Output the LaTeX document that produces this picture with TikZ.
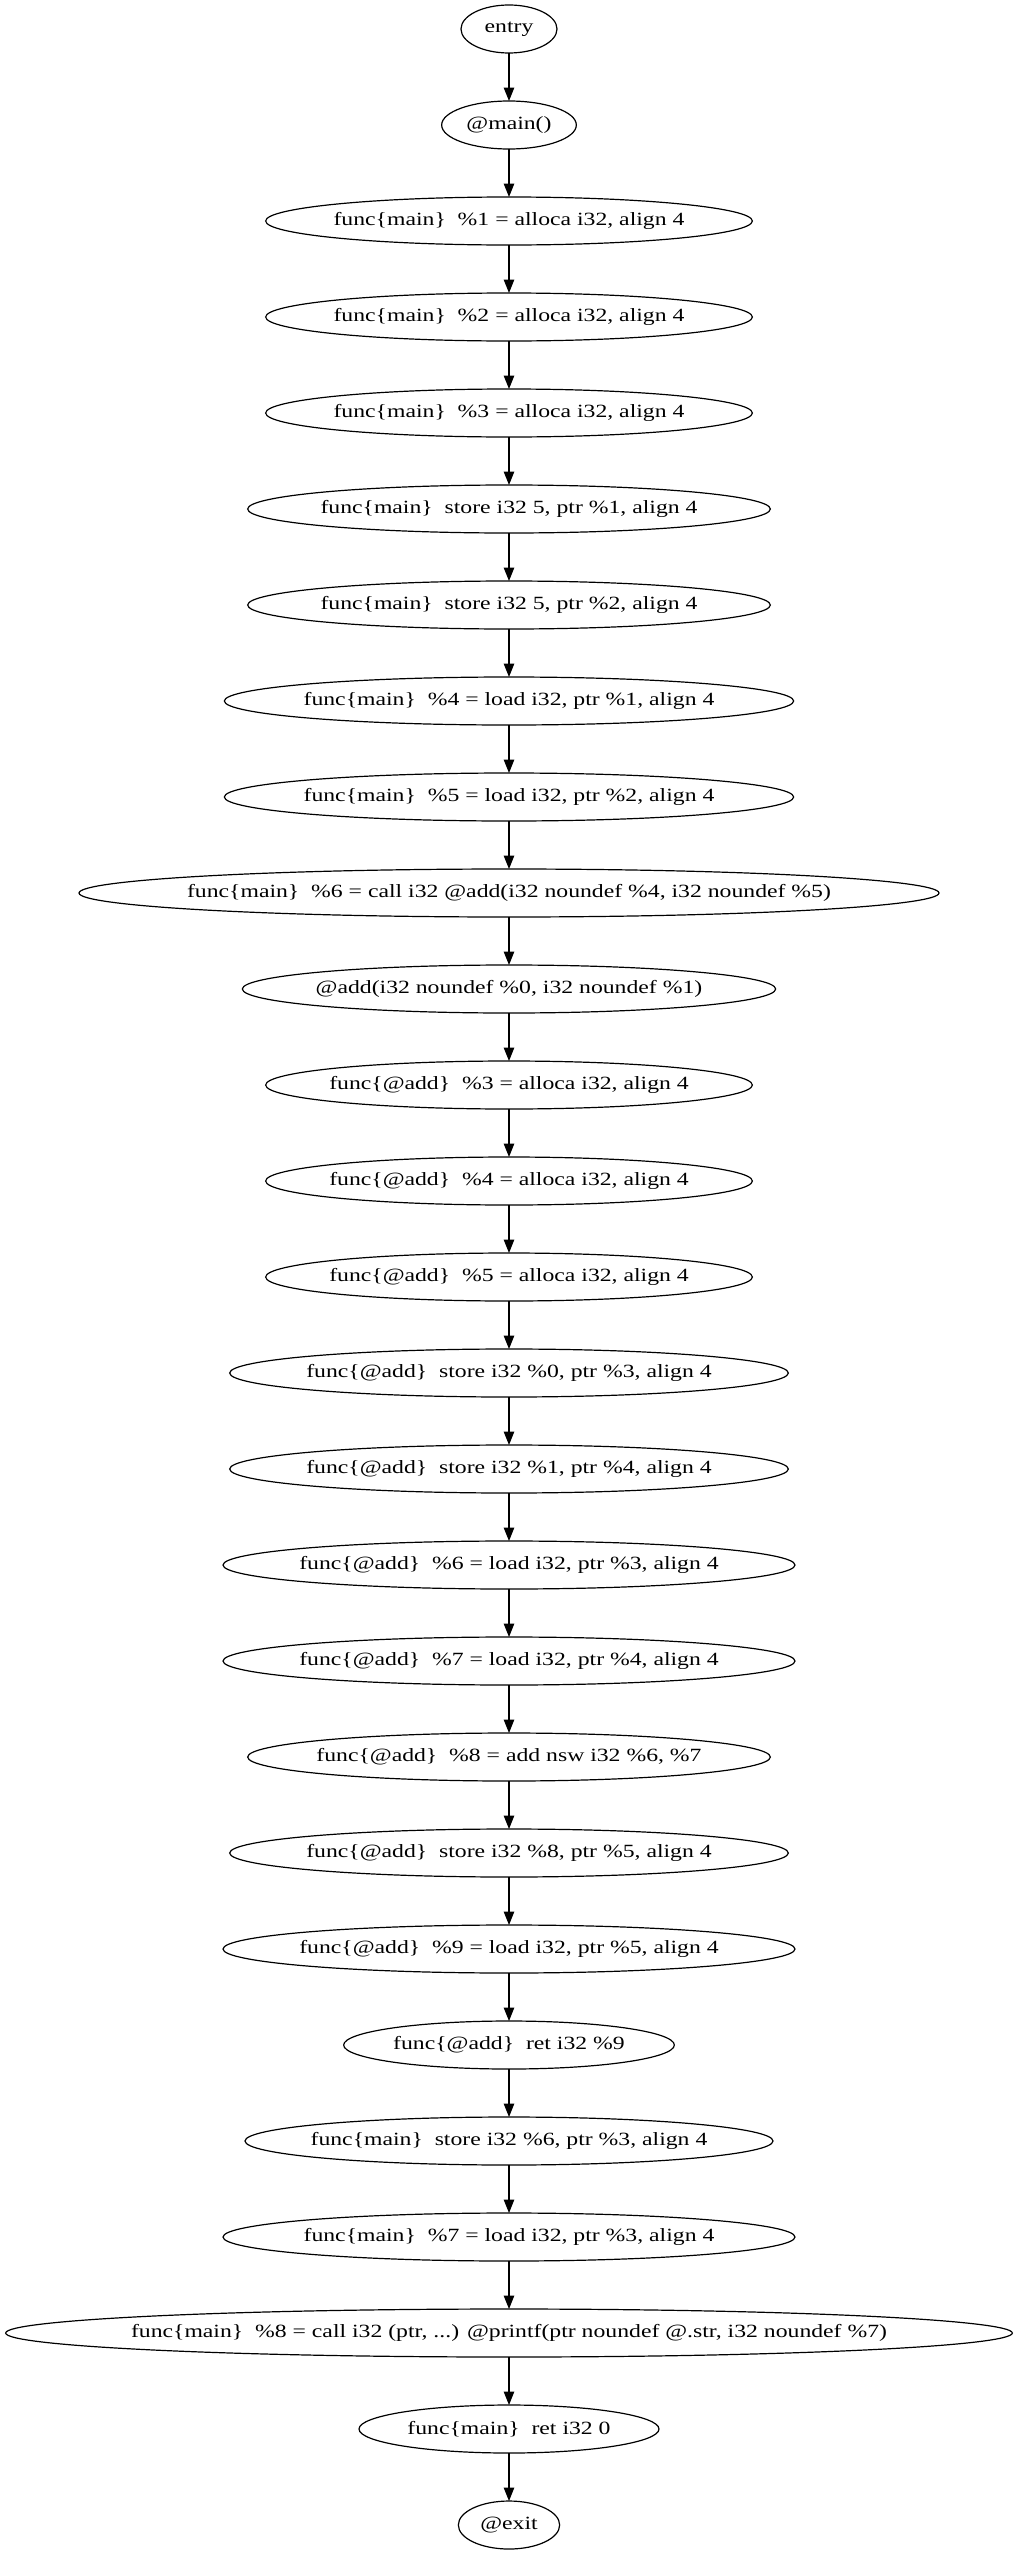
\documentclass[tikz,border=0pt]{standalone}
\usepackage{fontspec}
\setmainfont[FakeStretch=1.27]{Liberation Serif}
\usetikzlibrary{positioning,shapes.geometric,arrows.meta}
\newcommand{\funcof}[1]{func\{#1\}\ \ }
\begin{document}
\begin{tikzpicture}[
  x=0.75pt, y=0.75pt,
  node distance=36pt,
  every node/.style={ellipse, draw, line width=0.9pt, minimum height=36pt,
    inner xsep=-40pt, inner ysep=0pt, outer sep=0pt,
    font=\fontsize{14}{17}\selectfont},
  flow/.style={line width=0.9pt, -{Triangle[length=10pt,width=7.8pt]}}
  ]
  \useasboundingbox (0,0) rectangle (1014,-2555);
  \node[minimum width=72pt] (n0) at (509,-29) {entry};
  \node[minimum width=101pt, below=of n0] (n1) {@main()};
  \node[minimum width=365pt, below=of n1] (n2) {\funcof{main}\%1 = alloca i32, align 4};
  \node[minimum width=365pt, below=of n2] (n3) {\funcof{main}\%2 = alloca i32, align 4};
  \node[minimum width=365pt, below=of n3] (n4) {\funcof{main}\%3 = alloca i32, align 4};
  \node[minimum width=392pt, below=of n4] (n5) {\funcof{main}store i32 5, ptr \%1, align 4};
  \node[minimum width=392pt, below=of n5] (n6) {\funcof{main}store i32 5, ptr \%2, align 4};
  \node[minimum width=427pt, below=of n6] (n7) {\funcof{main}\%4 = load i32, ptr \%1, align 4};
  \node[minimum width=427pt, below=of n7] (n8) {\funcof{main}\%5 = load i32, ptr \%2, align 4};
  \node[minimum width=645pt, below=of n8] (n9) {\funcof{main}\%6 = call i32 @add(i32 noundef \%4, i32 noundef \%5)};
  \node[minimum width=400pt, below=of n9] (n10) {@add(i32 noundef \%0, i32 noundef \%1)};
  \node[minimum width=365pt, below=of n10] (n11) {\funcof{@add}\%3 = alloca i32, align 4};
  \node[minimum width=365pt, below=of n11] (n12) {\funcof{@add}\%4 = alloca i32, align 4};
  \node[minimum width=365pt, below=of n12] (n13) {\funcof{@add}\%5 = alloca i32, align 4};
  \node[minimum width=419pt, below=of n13] (n14) {\funcof{@add}store i32 \%0, ptr \%3, align 4};
  \node[minimum width=419pt, below=of n14] (n15) {\funcof{@add}store i32 \%1, ptr \%4, align 4};
  \node[minimum width=429pt, below=of n15] (n16) {\funcof{@add}\%6 = load i32, ptr \%3, align 4};
  \node[minimum width=429pt, below=of n16] (n17) {\funcof{@add}\%7 = load i32, ptr \%4, align 4};
  \node[minimum width=392pt, below=of n17] (n18) {\funcof{@add}\%8 = add nsw i32 \%6, \%7};
  \node[minimum width=419pt, below=of n18] (n19) {\funcof{@add}store i32 \%8, ptr \%5, align 4};
  \node[minimum width=429pt, below=of n19] (n20) {\funcof{@add}\%9 = load i32, ptr \%5, align 4};
  \node[minimum width=248pt, below=of n20] (n21) {\funcof{@add}ret i32 \%9};
  \node[minimum width=396pt, below=of n21] (n22) {\funcof{main}store i32 \%6, ptr \%3, align 4};
  \node[minimum width=429pt, below=of n22] (n23) {\funcof{main}\%7 = load i32, ptr \%3, align 4};
  \node[minimum width=755pt, below=of n23] (n24) {\funcof{main}\%8 = call i32 (ptr, ...) @printf(ptr noundef @.str, i32 noundef \%7)};
  \node[minimum width=225pt, below=of n24] (n25) {\funcof{main}ret i32 0};
  \node[minimum width=76pt, below=of n25] (n26) {@exit};
  % control flow
  \foreach \i [evaluate=\i as \j using int(\i+1)] in {0,...,25}
    \draw[flow] (n\i) -- (n\j);
\end{tikzpicture}
\end{document}
